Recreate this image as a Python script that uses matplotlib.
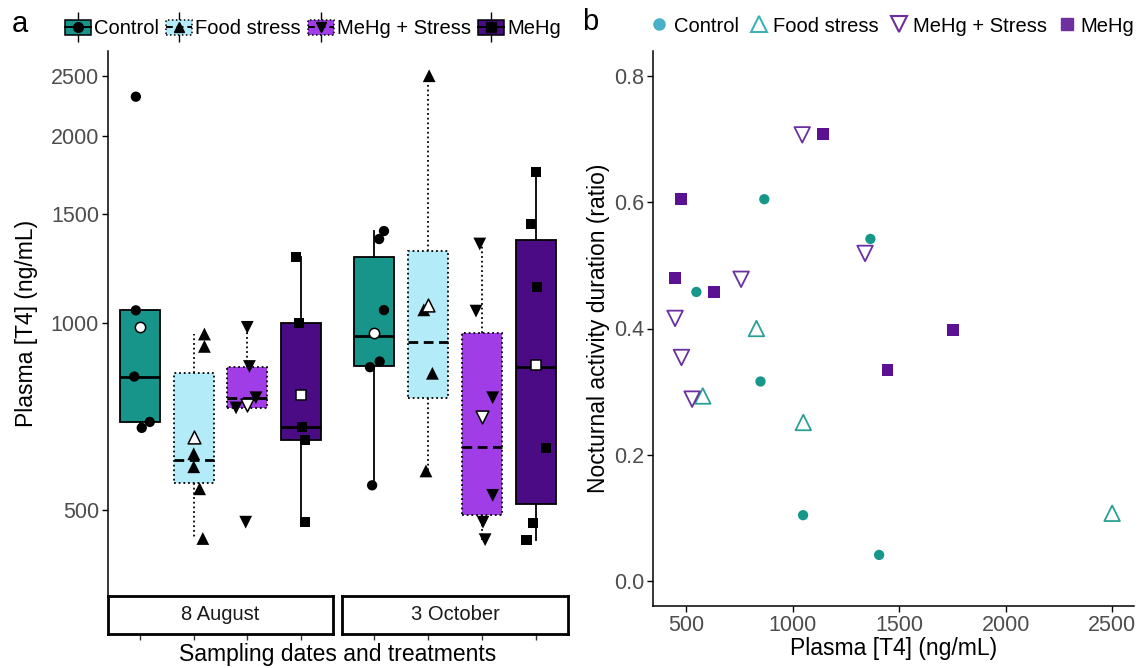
import numpy as np
import matplotlib
matplotlib.use("Agg")
import matplotlib.pyplot as plt
from matplotlib import cbook
from matplotlib.lines import Line2D
from matplotlib.patches import Patch
from matplotlib.ticker import NullLocator, FixedLocator, FixedFormatter

plt.rcParams['font.family'] = ['Liberation Sans', 'DejaVu Sans']

treatments = ["Control", "Food stress", "MeHg + Stress", "MeHg"]
dates = ["8 August", "3 October"]

# plasma T4 (ng/mL) per fish, 8 August
aug_control = [2313, 1048, 820, 693, 678]
aug_food = [960, 917, 616, 587, 541, 450]
aug_mehg_stress = [984, 851, 758, 730, 478]
aug_mehg = [1276, 1000, 680, 649, 478]
aug_mean = [987, 656, 737, 767]

# plasma T4 (ng/mL) per fish, 3 October
oct_control = [1406, 1365, 1049, 867, 849, 548]
oct_food = [2500, 1050, 830, 578]
oct_mehg_stress = [1340, 1045, 758, 528, 478, 448]
oct_mehg = [1752, 1445, 1142, 630, 476, 447]
oct_mean = [965, 1068, 706, 857]

# nocturnal activity ratio, same fish as oct_*
oct_control_ratio = [0.041, 0.542, 0.104, 0.605, 0.316, 0.458]
oct_food_ratio = [0.107, 0.251, 0.400, 0.293]
oct_mehg_stress_ratio = [0.519, 0.707, 0.478, 0.288, 0.354, 0.416]
oct_mehg_ratio = [0.397, 0.334, 0.708, 0.458, 0.605, 0.480]

# horizontal jitter of the points (category units)
aug_jitter = [[-0.08, -0.08, -0.11, 0.18, 0.03],
              [0.2, 0.2, 0.0, 0.0, 0.11, 0.17],
              [0.0, 0.04, 0.16, -0.21, -0.03],
              [-0.09, -0.03, 0.02, 0.08, 0.08]]
oct_jitter = [[0.18, 0.09, 0.18, 0.1, -0.08, -0.04],
              [0.02, -0.08, 0.08, -0.04],
              [-0.04, -0.11, 0.2, 0.2, 0.02, 0.06],
              [0.0, -0.09, 0.03, 0.19, -0.05, -0.17]]

t4_limits = (400, 2500)
t4_ticks = [500, 1000, 1500, 2000, 2500]
ratio_limits = (0.0, 0.8)
ratio_ticks = [0.0, 0.2, 0.4, 0.6, 0.8]
x_ticks_b = [500, 1000, 1500, 2000, 2500]

box_colors = ["#18958a", "#b3ecf8", "#a13de6", "#4b0b84"]
markers = ["o", "^", "v", "s"]
box_ls = ["-", (0, (1, 1.6)), (0, (1, 1.6)), "-"]
med_ls = ["-", (0, (3.5, 2)), (0, (3.5, 2)), "-"]
pt_size = [55, 85, 85, 55]
b_colors = ["#17978a", "#2aa096", "#6a2fa0", "#5a1192"]
b_legend_colors = ["#48b0c8", "#3eb2b8", "#6d2e9e", "#7030a0"]

tick_col = "#4d4d4d"
W, H = 1143, 668


def frac(x0, y0, x1, y1):
    return [x0 / W, 1 - y1 / H, (x1 - x0) / W, (y1 - y0) / H]


fig = plt.figure(figsize=(W / 100, H / 100), dpi=100)
ax_aug = fig.add_axes(frac(108, 51, 333, 595))
ax_oct = fig.add_axes(frac(342, 51, 568, 595), sharey=ax_aug)
strip_aug = fig.add_axes(frac(108, 596, 333, 634))
strip_oct = fig.add_axes(frac(342, 596, 568, 634))
ax_b = fig.add_axes(frac(653, 51, 1134, 606))


def draw_facet(ax, groups, jitters, means):
    for i, (vals, jit, m) in enumerate(zip(groups, jitters, means)):
        pos = i + 1
        # boxplot stats on the log scale, like ggplot with a log10 scale
        st = cbook.boxplot_stats(np.log10(vals))[0]
        for k in ("med", "q1", "q3", "whislo", "whishi", "mean"):
            st[k] = 10 ** st[k]
        st["fliers"] = []
        ax.bxp([st], positions=[pos], widths=0.75, patch_artist=True,
               showcaps=False, showfliers=False,
               boxprops=dict(facecolor=box_colors[i], edgecolor="black",
                             linewidth=1.3, linestyle=box_ls[i]),
               whiskerprops=dict(color="black", linewidth=1.3, linestyle=box_ls[i]),
               medianprops=dict(color="black", linewidth=2.0, linestyle=med_ls[i]))
        ax.scatter(pos + np.array(jit), vals, marker=markers[i], s=pt_size[i],
                   color="black", edgecolors="none", zorder=3)
        ax.scatter([pos], [m], marker=markers[i], s=pt_size[i], facecolors="white",
                   edgecolors="black", linewidths=1.1, zorder=4)
    ax.set_xlim(0.4, 4.6)
    ax.tick_params(axis="x", bottom=False, labelbottom=False)
    for s in ("top", "right", "bottom"):
        ax.spines[s].set_visible(False)


draw_facet(ax_aug, [aug_control, aug_food, aug_mehg_stress, aug_mehg], aug_jitter, aug_mean)
draw_facet(ax_oct, [oct_control, oct_food, oct_mehg_stress, oct_mehg], oct_jitter, oct_mean)

ax_aug.set_yscale("log")
lo, hi = np.log10(t4_limits)
pad = 0.05 * (hi - lo)
ax_aug.set_ylim(10 ** (lo - pad), 10 ** (hi + pad))
ax_aug.yaxis.set_major_locator(FixedLocator(t4_ticks))
ax_aug.yaxis.set_major_formatter(FixedFormatter([str(t) for t in t4_ticks]))
ax_aug.yaxis.set_minor_locator(NullLocator())
ax_aug.spines["left"].set_linewidth(1.1)
ax_aug.tick_params(axis="y", length=4.5, width=1.0, pad=2, labelsize=15.5, labelcolor=tick_col)
ax_aug.set_ylabel("Plasma [T4] (ng/mL)", fontsize=16.5)
ax_aug.yaxis.set_label_coords(-0.31, 0.5)

ax_oct.spines["left"].set_visible(False)
ax_oct.tick_params(axis="y", left=False, labelleft=False)

for sax, label in zip([strip_aug, strip_oct], dates):
    sax.set_xlim(0.4, 4.6)
    sax.set_ylim(0, 1)
    sax.set_xticks([1, 2, 3, 4])
    sax.set_xticklabels([])
    sax.set_yticks([])
    sax.tick_params(axis="x", length=4.5, width=1.0, color="#333333")
    for s in sax.spines.values():
        s.set_linewidth(2.0)
    sax.text(0.5, 0.5, label, transform=sax.transAxes, ha="center", va="center",
             fontsize=14.5, color="#1a1a1a")

fig.text(338 / W, 1 - 655 / H, "Sampling dates and treatments", ha="center", va="center",
         fontsize=16.5)

# panel b
xs = [oct_control, oct_food, oct_mehg_stress, oct_mehg]
ys = [oct_control_ratio, oct_food_ratio, oct_mehg_stress_ratio, oct_mehg_ratio]
ax_b.scatter(xs[0], ys[0], marker="o", s=55, color=b_colors[0], edgecolors="none")
ax_b.scatter(xs[1], ys[1], marker="^", s=125, facecolors="none", edgecolors=b_colors[1],
             linewidths=1.3)
ax_b.scatter(xs[2], ys[2], marker="v", s=125, facecolors="none", edgecolors=b_colors[2],
             linewidths=1.3)
ax_b.scatter(xs[3], ys[3], marker="s", s=72, color=b_colors[3], edgecolors="none")
ax_b.margins(x=0.05)
rpad = 0.05 * (ratio_limits[1] - ratio_limits[0])
ax_b.set_ylim(ratio_limits[0] - rpad, ratio_limits[1] + rpad)
ax_b.set_yticks(ratio_ticks)
ax_b.set_yticklabels([f"{t:.1f}" for t in ratio_ticks])
ax_b.set_xticks(x_ticks_b)
for s in ("top", "right"):
    ax_b.spines[s].set_visible(False)
for s in ("left", "bottom"):
    ax_b.spines[s].set_linewidth(1.1)
ax_b.tick_params(length=4.5, width=1.0, pad=2, labelsize=15.5, labelcolor=tick_col)
ax_b.set_xlabel("Plasma [T4] (ng/mL)", fontsize=16.5, labelpad=1)
ax_b.set_ylabel("Nocturnal activity duration (ratio)", fontsize=16.5, labelpad=3)

# legends
handles_a = []
for i in range(4):
    whisk = Line2D([], [], color="black", marker="|", markersize=22, markeredgewidth=1.0,
                   linestyle="none")
    box = Patch(facecolor=box_colors[i], edgecolor="black", linestyle=box_ls[i], linewidth=1.1)
    med = Line2D([], [], color="black", linewidth=1.4, linestyle=med_ls[i])
    pt = Line2D([], [], color="black", marker=markers[i], markersize=7, linestyle="none")
    handles_a.append((whisk, box, med, pt))
fig.legend(handles_a, treatments, loc="center", bbox_to_anchor=(313 / W, 1 - 29 / H),
           ncol=4, frameon=False, fontsize=14.5, handlelength=1.3, handleheight=0.7,
           handletextpad=0.15, columnspacing=0.35, borderaxespad=0, borderpad=0)

handles_b = [
    Line2D([], [], linestyle="none", marker="o", markersize=8, color=b_legend_colors[0]),
    Line2D([], [], linestyle="none", marker="^", markersize=11, markerfacecolor="none",
           markeredgecolor=b_legend_colors[1], markeredgewidth=1.5),
    Line2D([], [], linestyle="none", marker="v", markersize=11, markerfacecolor="none",
           markeredgecolor=b_legend_colors[2], markeredgewidth=1.5),
    Line2D([], [], linestyle="none", marker="s", markersize=8, color=b_legend_colors[3]),
]
fig.legend(handles_b, treatments, loc="center", bbox_to_anchor=(893 / W, 1 - 26 / H),
           ncol=4, frameon=False, fontsize=14.5, handlelength=0.8, handletextpad=0.3,
           columnspacing=0.6, borderaxespad=0, borderpad=0)

fig.text(20 / W, 1 - 24 / H, "a", ha="center", va="center", fontsize=21)
fig.text(590 / W, 1 - 22 / H, "b", ha="center", va="center", fontsize=21)

fig.savefig("out.png", dpi=100)
